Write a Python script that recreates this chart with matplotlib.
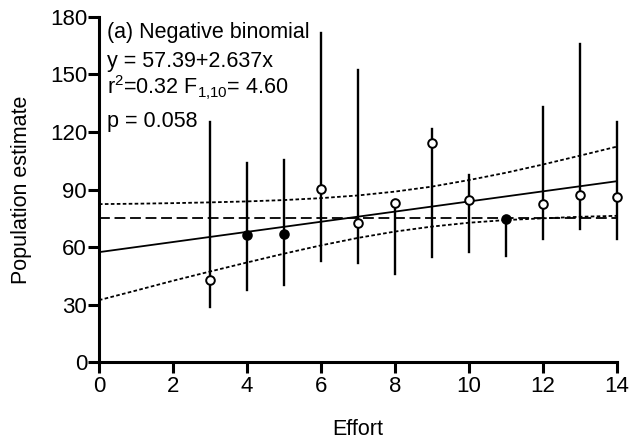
import matplotlib
matplotlib.use("Agg")
import matplotlib.pyplot as plt
import numpy as np

plt.rcParams["font.family"] = ["Liberation Sans", "DejaVu Sans"]
plt.rcParams["mathtext.default"] = "regular"

# Estimaciones por esfuerzo (binomial negativa)
esfuerzo = [3, 4, 5, 6, 7, 8, 9, 10, 11, 12, 13, 14]
estimacion = [43.1, 66.5, 67.1, 90.2, 72.6, 82.9, 114.0, 84.3, 74.9, 82.2, 86.9, 86.3]
limite_inf = [28.8, 37.5, 40.1, 52.6, 51.9, 46.2, 54.9, 57.5, 55.2, 64.3, 69.7, 64.5]
limite_sup = [124.9, 103.9, 105.6, 171.3, 152.2, 84.5, 121.4, 97.3, 76.0, 133.1, 165.6, 125.1]
rellenos = [False, True, True, False, False, False, False, False, True, False, False, False]

# Recta de regresion y bandas de confianza
intercepto = 57.39
pendiente = 2.637
x_banda = [0, 1, 2, 3, 4, 5, 6, 7, 8, 9, 10, 11, 12, 13, 14]
banda_sup = [82.4, 82.6, 82.9, 83.3, 83.8, 84.5, 85.5, 86.9, 88.9, 91.5, 94.9, 98.7, 103.0, 107.6, 112.3]
banda_inf = [32.4, 37.4, 42.5, 47.3, 52.0, 56.6, 60.9, 64.8, 68.1, 70.7, 72.7, 74.1, 75.0, 75.8, 76.3]
media = 75.3

fig = plt.figure(figsize=(6.3, 4.48), dpi=100)
ax = fig.add_axes([0.157, 0.191, 0.822, 0.772])

x_recta = np.array([0, 14])
ax.plot(x_recta, intercepto + pendiente * x_recta, color="black", lw=1.3, zorder=3)
ax.plot(x_banda, banda_sup, color="black", lw=1.3, dashes=(2.0, 1.3), zorder=3)
ax.plot(x_banda, banda_inf, color="black", lw=1.3, dashes=(2.0, 1.3), zorder=3)
ax.plot([0, 14], [media, media], color="black", lw=1.3, dashes=(6, 2.6), zorder=3)

for x, y, lo, hi, lleno in zip(esfuerzo, estimacion, limite_inf, limite_sup, rellenos):
    ax.plot([x, x], [lo, hi], color="black", lw=1.7, zorder=4, clip_on=False)
    ax.plot(x, y, "o", ms=6.2, mec="black", mew=1.4,
            mfc="black" if lleno else "white", zorder=5, clip_on=False)

ax.set_xlim(0, 14)
ax.set_ylim(0, 180)
ax.set_xticks(range(0, 15, 2))
ax.set_yticks(range(0, 181, 30))
for lado in ["top", "right"]:
    ax.spines[lado].set_visible(False)
for lado in ["left", "bottom"]:
    ax.spines[lado].set_linewidth(2.2)
ax.tick_params(width=2.2, length=8, labelsize=16)
ax.tick_params(axis="x", pad=2)
ax.tick_params(axis="y", pad=0.5)

ax.set_xlabel("Effort", fontsize=15.5, va="top")
ax.xaxis.set_label_coords(0.5, -0.165)
ax.set_ylabel("Population estimate", fontsize=15.5)
ax.yaxis.set_label_coords(-0.129, 0.5)

texto = ["(a) Negative binomial",
         "y = 57.39+2.637x",
         "r$^{2}$=0.32 F$_{1{,}10}$= 4.60",
         "p = 0.058"]
alturas = [169.1, 154.0, 139.6, 122.7]
for t, yy in zip(texto, alturas):
    ax.text(0.22, yy, t, fontsize=15.5, va="baseline", ha="left")

fig.savefig("out.png", dpi=100)
